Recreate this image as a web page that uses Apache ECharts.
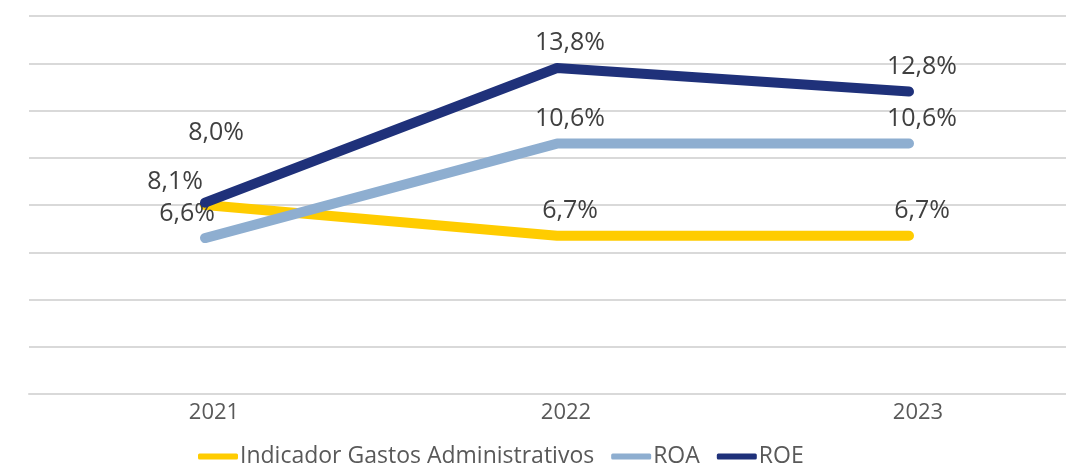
<!DOCTYPE html>
<html>
<head>
<meta charset="utf-8">
<script src="https://cdn.jsdelivr.net/npm/echarts@6/dist/echarts.min.js"></script>
<style>
html,body{margin:0;padding:0;background:#fff;overflow:hidden;width:1066px;height:467px;}
#chart{width:1100px;height:467px;}
</style>
</head>
<body>
<div id="chart"></div>
<script>
const categories = ['2021', '2022', '2023'];
const gastosAdm = [8.0, 6.7, 6.7];
const roa = [6.6, 10.6, 10.6];
const roe = [8.1, 13.8, 12.8];
const seriesNames = ['Indicador Gastos Administrativos', 'ROA', 'ROE'];
const colors = ['#FFCC00', '#8EAED0', '#1F317A'];

// label offsets for the first category (to avoid overlaps, as in the reference)
const firstOffsets = [[11, -47], [-18, 1], [-30, 4]];
const defaultOffset = [13, 0];

function fmt(v) { return v.toFixed(1).replace('.', ',') + '%'; }

function buildSeries(name, values, color, idx) {
  return {
    name: name,
    type: 'line',
    data: values.map((v, i) => ({
      value: v,
      label: { offset: i === 0 ? firstOffsets[idx] : defaultOffset }
    })),
    symbol: 'circle',
    symbolSize: 1,
    showSymbol: true,
    itemStyle: { color: color },
    lineStyle: { color: color, width: 10, cap: 'round', join: 'round' },
    label: {
      show: true,
      position: 'top',
      distance: 12,
      color: '#404040',
      fontFamily: 'Open Sans',
      fontSize: 25,
      formatter: p => fmt(p.value)
    },
    emphasis: { disabled: true },
    animation: false,
    z: 2 + idx
  };
}

const chart = echarts.init(document.getElementById('chart'), null, { renderer: 'canvas' });
chart.setOption({
  backgroundColor: '#ffffff',
  animation: false,
  grid: { left: 29, top: 16, width: 1056, height: 378, containLabel: false },
  legend: {
    left: 193,
    top: 440,
    icon: 'roundRect',
    itemWidth: 40,
    itemHeight: 6,
    itemGap: 17,
    textStyle: { color: '#595959', fontFamily: 'Open Sans', fontSize: 23, padding: [0, 0, 0, -3] },
    data: seriesNames
  },
  xAxis: {
    type: 'category',
    data: categories,
    boundaryGap: true,
    axisLine: { show: true, lineStyle: { color: '#D9D9D9', width: 2 } },
    axisTick: { show: false },
    axisLabel: { color: '#595959', fontFamily: 'Open Sans', fontSize: 22, margin: 8, padding: [0, 0, 0, 18] }
  },
  yAxis: {
    type: 'value',
    min: 0,
    max: 16,
    interval: 2,
    axisLine: { show: false },
    axisTick: { show: false },
    axisLabel: { show: false },
    splitLine: { show: true, lineStyle: { color: '#D9D9D9', width: 2 } }
  },
  series: [
    buildSeries(seriesNames[0], gastosAdm, colors[0], 0),
    buildSeries(seriesNames[1], roa, colors[1], 1),
    buildSeries(seriesNames[2], roe, colors[2], 2)
  ]
});
</script>
</body>
</html>
